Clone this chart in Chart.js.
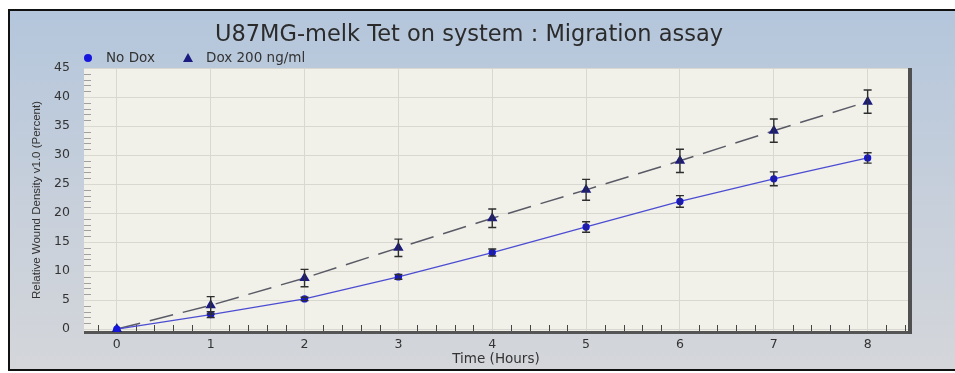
<!DOCTYPE html>
<html>
<head>
<meta charset="utf-8">
<title>U87MG-melk Tet on system : Migration assay</title>
<script src="https://cdn.jsdelivr.net/npm/chart.js@4"></script>
<style>
    html, body { margin: 0; padding: 0; background: #ffffff; }
    #wrap { width: 955px; height: 373px; }
</style>
</head>
<body>
<div id="wrap"><canvas id="migrationChart" width="955" height="373"></canvas></div>
<script>
const hours = [0, 1, 2, 3, 4, 5, 6, 7, 8];
const noDox = [0, 2.5, 5.2, 9.0, 13.2, 17.6, 22.0, 25.9, 29.5];
const noDoxErr = [0, 0.5, 0.3, 0.4, 0.6, 0.9, 1.0, 1.2, 0.9];
const dox200 = [0, 4.1, 8.8, 14.0, 19.1, 24.0, 29.0, 34.2, 39.2];
const dox200Err = [0, 1.5, 1.5, 1.5, 1.6, 1.8, 2.0, 2.0, 2.0];
const xTicks = [0, 1, 2, 3, 4, 5, 6, 7, 8];
const yTicks = [0, 5, 10, 15, 20, 25, 30, 35, 40, 45];
const seriesLabels = ["No Dox", "Dox 200 ng/ml"];

const FONT = "'DejaVu Sans', sans-serif";

function toPoints(xs, ys)
{
    return xs.map((x, i) => ({ x: x, y: ys[i] }));
}

// frame, gradient backdrop and plot background
const backdrop =
{
    id: "backdrop",
    beforeDraw(chart)
    {
        const ctx = chart.ctx;
        const area = chart.chartArea;
        ctx.save();
        ctx.fillStyle = "#ffffff";
        ctx.fillRect(0, 0, chart.width, chart.height);
        const grad = ctx.createLinearGradient(0, 10, 0, 370);
        grad.addColorStop(0, "#b4c6dc");
        grad.addColorStop(0.5, "#c6cfdb");
        grad.addColorStop(1, "#d4d6da");
        ctx.fillStyle = grad;
        ctx.fillRect(9, 10, chart.width - 9, 360);
        ctx.fillStyle = "#111111";
        ctx.fillRect(8, 9, chart.width - 8, 2);
        ctx.fillRect(8, 9, 2, 362);
        ctx.fillRect(8, 369, chart.width - 8, 2);
        ctx.fillStyle = "#f1f1ea";
        ctx.fillRect(area.left, area.top, area.right - area.left, area.bottom - area.top);
        ctx.restore();
    }
};

// minor ticks, plot edges, error bars and legend
const extras =
{
    id: "extras",
    beforeDatasetsDraw(chart)
    {
        const ctx = chart.ctx;
        const area = chart.chartArea;
        const xs = chart.scales.x;
        const ys = chart.scales.y;
        ctx.save();
        ctx.strokeStyle = "#a0a0a0";
        ctx.lineWidth = 1;
        for (let v = 1; v < 45; v++)
        {
            if (v % 5 === 0) continue;
            const py = Math.round(ys.getPixelForValue(v)) + 0.5;
            ctx.beginPath();
            ctx.moveTo(area.left, py);
            ctx.lineTo(area.left + 7, py);
            ctx.stroke();
        }
        ctx.strokeStyle = "#444444";
        for (let k = -1; k <= 42; k++)
        {
            if (k % 5 === 0) continue;
            const px = Math.round(xs.getPixelForValue(k / 5)) + 0.5;
            if (px <= area.left || px >= area.right) continue;
            ctx.beginPath();
            ctx.moveTo(px, area.bottom);
            ctx.lineTo(px, area.bottom - 7);
            ctx.stroke();
        }
        ctx.fillStyle = "#555555";
        ctx.fillRect(area.left, area.bottom - 1, area.right - area.left + 4, 3);
        ctx.fillStyle = "#505050";
        ctx.fillRect(area.right, area.top, 4, area.bottom - area.top + 2);
        ctx.restore();
    },
    afterDatasetsDraw(chart)
    {
        const ctx = chart.ctx;
        const xs = chart.scales.x;
        const ys = chart.scales.y;
        const sets = [[noDox, noDoxErr], [dox200, dox200Err]];
        ctx.save();
        ctx.strokeStyle = "#2e2e2e";
        ctx.lineWidth = 1.4;
        sets.forEach(([vals, errs]) =>
        {
            hours.forEach((h, i) =>
            {
                if (!errs[i]) return;
                const px = xs.getPixelForValue(h);
                const top = ys.getPixelForValue(vals[i] + errs[i]);
                const bot = ys.getPixelForValue(vals[i] - errs[i]);
                ctx.beginPath();
                ctx.moveTo(px, top);
                ctx.lineTo(px, bot);
                ctx.moveTo(px - 4, top);
                ctx.lineTo(px + 4, top);
                ctx.moveTo(px - 4, bot);
                ctx.lineTo(px + 4, bot);
                ctx.stroke();
            });
        });

        // legend
        const ly = 58;
        ctx.fillStyle = "#1616dc";
        ctx.beginPath();
        ctx.arc(88, ly, 4, 0, Math.PI * 2);
        ctx.fill();
        ctx.fillStyle = "#1b1b80";
        ctx.beginPath();
        ctx.moveTo(188, ly - 5);
        ctx.lineTo(193, ly + 4);
        ctx.lineTo(183, ly + 4);
        ctx.closePath();
        ctx.fill();
        ctx.fillStyle = "#333333";
        ctx.font = "13.5px " + FONT;
        ctx.textBaseline = "middle";
        ctx.textAlign = "left";
        ctx.fillText(seriesLabels[0], 106, ly);
        ctx.fillText(seriesLabels[1], 206, ly);
        ctx.restore();
    }
};

new Chart(document.getElementById("migrationChart"),
{
    type: "line",
    data:
    {
        datasets:
        [
            {
                label: seriesLabels[0],
                data: toPoints(hours, noDox),
                borderColor: "#4c4cd2",
                borderWidth: 1.3,
                pointStyle: "circle",
                pointRadius: 3,
                pointBackgroundColor: "#1616dc",
                pointBorderColor: "#1616dc",
                tension: 0
            },
            {
                label: seriesLabels[1],
                data: toPoints(hours, dox200),
                borderColor: "#5a5a66",
                borderWidth: 1.5,
                borderDash: [24, 10],
                pointStyle: "triangle",
                pointRadius: 4.5,
                pointBackgroundColor: "#1b1b80",
                pointBorderColor: "#1b1b80",
                tension: 0
            }
        ]
    },
    options:
    {
        responsive: false,
        animation: false,
        events: [],
        layout:
        {
            padding: { left: 30, right: 47, top: 0, bottom: 0 }
        },
        plugins:
        {
            legend: { display: false },
            tooltip: { enabled: false },
            title:
            {
                display: true,
                text: "U87MG-melk Tet on system : Migration assay",
                color: "#2b2b2b",
                font: { family: FONT, size: 22.5, weight: "normal" },
                padding: { top: 22, bottom: 19 }
            }
        },
        scales:
        {
            x:
            {
                type: "linear",
                min: -0.35,
                max: 8.43,
                afterBuildTicks: (scale) => { scale.ticks = xTicks.map(v => ({ value: v })); },
                afterFit: (scale) => { scale.height = 41; },
                grid: { color: "#d8d8d0", drawTicks: false },
                border: { display: false },
                ticks:
                {
                    color: "#333333",
                    padding: 5,
                    maxRotation: 0,
                    font: { family: FONT, size: 12.5 }
                },
                title:
                {
                    display: true,
                    text: "Time (Hours)",
                    color: "#333333",
                    font: { family: FONT, size: 13.5 },
                    padding: { top: 0, bottom: 5 }
                }
            },
            y:
            {
                min: -0.5,
                max: 45,
                afterBuildTicks: (scale) => { scale.ticks = yTicks.map(v => ({ value: v })); },
                afterFit: (scale) => { scale.width = 54; },
                grid: { color: "#d8d8d0", drawTicks: false },
                border: { display: false },
                ticks:
                {
                    color: "#333333",
                    padding: 14,
                    font: { family: FONT, size: 12.5 }
                },
                title:
                {
                    display: true,
                    text: "Relative Wound Density v1.0 (Percent)",
                    color: "#333333",
                    font: { family: "'Liberation Sans', Arial, sans-serif", size: 11.5 },
                    padding: { top: 0, bottom: 0 }
                }
            }
        }
    },
    plugins: [backdrop, extras]
});
</script>
</body>
</html>
